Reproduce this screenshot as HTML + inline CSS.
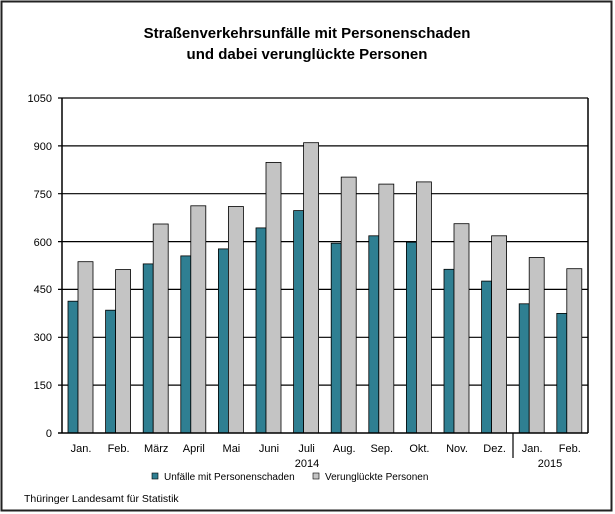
<!DOCTYPE html>
<html><head><meta charset="utf-8"><style>body{margin:0;background:#fff}svg{display:block;font-family:"Liberation Sans",sans-serif}</style></head><body>
<svg width="615" height="514" viewBox="0 0 615 514">
<rect x="1.5" y="1.5" width="610" height="509" fill="#fff" stroke="#222" stroke-width="2"/>
<text x="307" y="38" text-anchor="middle" font-size="15" font-weight="bold">Straßenverkehrsunfälle mit Personenschaden</text>
<text x="307" y="59" text-anchor="middle" font-size="15" font-weight="bold">und dabei verunglückte Personen</text>
<g stroke="#000" stroke-width="1.2">
<line x1="58" x2="588" y1="98" y2="98"/>
<line x1="58" x2="588" y1="145.9" y2="145.9"/>
<line x1="58" x2="588" y1="193.7" y2="193.7"/>
<line x1="58" x2="588" y1="241.6" y2="241.6"/>
<line x1="58" x2="588" y1="289.4" y2="289.4"/>
<line x1="58" x2="588" y1="337.3" y2="337.3"/>
<line x1="58" x2="588" y1="385.1" y2="385.1"/>
</g>
<g font-size="11" text-anchor="end">
<text x="52" y="102">1050</text><text x="52" y="150">900</text><text x="52" y="198">750</text><text x="52" y="246">600</text><text x="52" y="293">450</text><text x="52" y="341">300</text><text x="52" y="389">150</text><text x="52" y="437">0</text>
</g>
<g fill="#2f7f92" stroke="#000" stroke-width="0.8">
<rect x="68" y="301.2" width="10" height="131.8"/>
<rect x="105.6" y="310.2" width="10" height="122.8"/>
<rect x="143.2" y="263.9" width="10" height="169.1"/>
<rect x="180.8" y="255.9" width="10" height="177.1"/>
<rect x="218.4" y="248.9" width="10" height="184.1"/>
<rect x="256" y="227.9" width="10" height="205.1"/>
<rect x="293.6" y="210.6" width="10" height="222.4"/>
<rect x="331.2" y="243.2" width="10" height="189.8"/>
<rect x="368.8" y="235.8" width="10" height="197.2"/>
<rect x="406.4" y="242.2" width="10" height="190.8"/>
<rect x="444" y="269.3" width="10" height="163.7"/>
<rect x="481.6" y="281.1" width="10" height="151.9"/>
<rect x="519.2" y="303.8" width="10" height="129.2"/>
<rect x="556.8" y="313.4" width="10" height="119.6"/>
</g>
<g fill="#c4c4c4" stroke="#000" stroke-width="0.8">
<rect x="78" y="261.7" width="15" height="171.3"/>
<rect x="115.6" y="269.6" width="15" height="163.4"/>
<rect x="153.2" y="224" width="15" height="209"/>
<rect x="190.8" y="205.8" width="15" height="227.2"/>
<rect x="228.4" y="206.5" width="15" height="226.5"/>
<rect x="266" y="162.4" width="15" height="270.6"/>
<rect x="303.6" y="142.7" width="15" height="290.3"/>
<rect x="341.2" y="177.1" width="15" height="255.9"/>
<rect x="378.8" y="184.1" width="15" height="248.9"/>
<rect x="416.4" y="181.9" width="15" height="251.1"/>
<rect x="454" y="223.7" width="15" height="209.3"/>
<rect x="491.6" y="235.8" width="15" height="197.2"/>
<rect x="529.2" y="257.5" width="15" height="175.5"/>
<rect x="566.8" y="268.7" width="15" height="164.3"/>
</g>
<g stroke="#000" stroke-width="1.5">
<line x1="58" x2="588" y1="433" y2="433"/>
<line x1="62" x2="62" y1="98" y2="433"/>
<line x1="588" x2="588" y1="98" y2="433"/>
<line x1="513" x2="513" y1="433" y2="458" stroke-width="1.2"/>
</g>
<g font-size="11" text-anchor="middle">
<text x="81" y="452">Jan.</text><text x="118.6" y="452">Feb.</text><text x="156.2" y="452">März</text><text x="193.8" y="452">April</text><text x="231.4" y="452">Mai</text><text x="269" y="452">Juni</text><text x="306.6" y="452">Juli</text><text x="344.2" y="452">Aug.</text><text x="381.8" y="452">Sep.</text><text x="419.4" y="452">Okt.</text><text x="457" y="452">Nov.</text><text x="494.6" y="452">Dez.</text><text x="532.2" y="452">Jan.</text><text x="569.8" y="452">Feb.</text>
<text x="307" y="467">2014</text>
<text x="550" y="467">2015</text>
</g>
<rect x="152" y="473" width="6" height="6" fill="#2f7f92" stroke="#000" stroke-width="0.6"/>
<text x="164" y="480" font-size="10">Unfälle mit Personenschaden</text>
<rect x="313" y="473" width="6" height="6" fill="#c4c4c4" stroke="#000" stroke-width="0.6"/>
<text x="325" y="480" font-size="10">Verunglückte Personen</text>
<text x="24" y="502" font-size="10.5">Thüringer Landesamt für Statistik</text>
</svg>
</body></html>
